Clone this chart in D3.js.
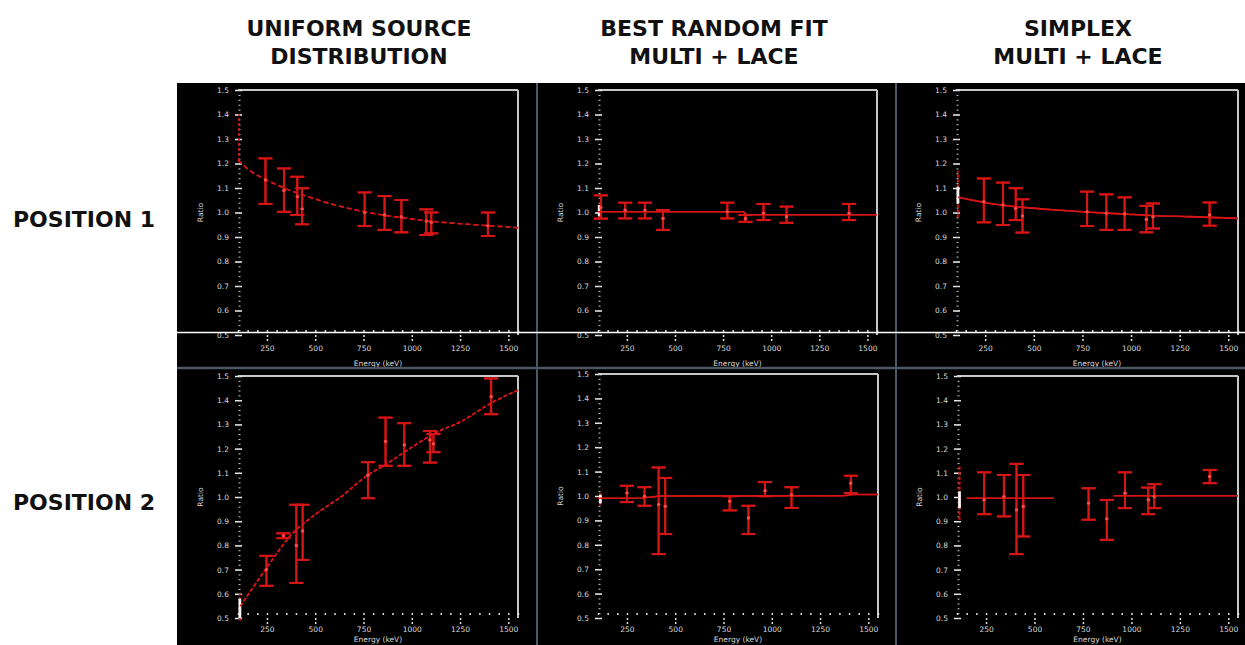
<!DOCTYPE html>
<html><head><meta charset="utf-8">
<script src="https://cdn.jsdelivr.net/npm/d3@7"></script>
<style>html,body{margin:0;padding:0;background:#fff;overflow:hidden}</style>
</head><body>
<svg id="c" width="1245" height="645"></svg>
<script>
// ---------- labels ----------
const colTitles = [["UNIFORM SOURCE","DISTRIBUTION"],["BEST RANDOM FIT","MULTI + LACE"],["SIMPLEX","MULTI + LACE"]];
const rowTitles = ["POSITION 1","POSITION 2"];
const yTicks = [0.5,0.6,0.7,0.8,0.9,1.0,1.1,1.2,1.3,1.4,1.5];
const xTicks = [250,500,750,1000,1250,1500];
const xTitle = "Energy (keV)";
const yTitle = "Ratio";

// ---------- Panel A: uniform source, position 1 ----------
const aX  = [242, 338, 407, 432, 756, 859, 946, 1075, 1101, 1394];
const aY  = [1.133, 1.09, 1.065, 1.015, 1.0, 0.99, 0.982, 0.965, 0.96, 0.946];
const aLo = [1.035, 1.003, 0.99, 0.952, 0.945, 0.929, 0.919, 0.908, 0.915, 0.904];
const aHi = [1.221, 1.18, 1.146, 1.099, 1.082, 1.067, 1.051, 1.013, 1.0, 1.0];
const aFitX = [100, 169, 247, 342, 462, 600, 756, 946, 1118, 1291, 1533, 1552];
const aFitY = [1.214, 1.167, 1.133, 1.099, 1.065, 1.031, 1.003, 0.979, 0.963, 0.952, 0.939, 0.938];
const aEdge = [105, 1.21, 1.40, null, null];

// ---------- Panel B: uniform source, position 2 ----------
const bX  = [247, 335, 402, 435, 773, 864, 961, 1094, 1112, 1411];
const bY  = [0.70, 0.84, 0.80, 0.86, 1.09, 1.23, 1.215, 1.236, 1.22, 1.415];
const bLo = [0.633, 0.83, 0.645, 0.74, 0.995, 1.129, 1.129, 1.142, 1.185, 1.342];
const bHi = [0.757, 0.85, 0.968, 0.968, 1.144, 1.328, 1.305, 1.273, 1.26, 1.49];
const bFitX = [112, 247, 376, 497, 635, 773, 863, 980, 1118, 1256, 1408, 1552];
const bFitY = [0.548, 0.706, 0.844, 0.926, 1.002, 1.091, 1.133, 1.195, 1.263, 1.312, 1.387, 1.442];
const bEdge = [110, 0.49, 0.6, 0.5, 0.58];

// ---------- Panel C: best random fit, position 1 ----------
const cX  = [115, 241, 344, 438, 772, 866, 960, 1080, 1405];
const cY  = [1.02, 1.01, 1.01, 0.976, 1.003, 0.975, 0.997, 0.983, 0.997];
const cLo = [0.975, 0.976, 0.976, 0.929, 0.976, 0.962, 0.969, 0.958, 0.969];
const cHi = [1.07, 1.04, 1.04, 1.01, 1.04, 0.99, 1.035, 1.024, 1.035];
const cFitX = [100, 855, 872, 1550];
const cFitY = [1.003, 1.003, 0.991, 0.991];
const cEdge = [106, 0.975, 1.03, 0.985, 1.03];

// ---------- Panel D: best random fit, position 2 ----------
const dX  = [250, 341, 414, 448, 782, 879, 965, 1102, 1409];
const dY  = [1.012, 0.999, 0.965, 0.958, 0.978, 0.91, 1.022, 1.005, 1.053];
const dLo = [0.975, 0.96, 0.762, 0.844, 0.941, 0.844, 0.999, 0.951, 1.012];
const dHi = [1.042, 1.036, 1.117, 1.074, 0.999, 0.96, 1.057, 1.036, 1.083];
const dFitX = [100, 330, 420, 1370, 1420, 1550];
const dFitY = [0.991, 0.992, 1.0, 1.001, 1.006, 1.006];
const dEdge = [112, 0.964, 1.012, 0.97, 1.005];

// ---------- Panel E: simplex, position 1 ----------
const eX  = [243, 342, 407, 442, 774, 873, 967, 1079, 1113, 1404];
const eY  = [1.044, 1.031, 1.017, 0.986, 1.003, 0.997, 0.994, 0.972, 0.983, 0.99];
const eLo = [0.96, 0.949, 0.969, 0.918, 0.945, 0.929, 0.929, 0.919, 0.935, 0.946];
const eHi = [1.139, 1.122, 1.099, 1.054, 1.085, 1.074, 1.062, 1.027, 1.037, 1.041];
const eFitX = [111, 274, 445, 616, 788, 959, 1130, 1301, 1549];
const eFitY = [1.062, 1.037, 1.021, 1.01, 1.001, 0.994, 0.987, 0.983, 0.976];
const eEdge = [110, 0.98, 1.17, 1.037, 1.105];

// ---------- Panel F: simplex, position 2 ----------
const fX  = [240, 342, 407, 442, 779, 873, 967, 1087, 1118, 1404];
const fY  = [0.988, 1.002, 0.947, 0.961, 0.975, 0.91, 1.016, 0.988, 1.002, 1.085];
const fLo = [0.929, 0.92, 0.764, 0.837, 0.906, 0.823, 0.954, 0.929, 0.954, 1.057];
const fHi = [1.102, 1.091, 1.137, 1.091, 1.036, 0.988, 1.102, 1.039, 1.053, 1.112];
const fFitX = [150, 600, null, 907, 1550];
const fFitY = [0.995, 0.995, null, 1.005, 1.005];
const fEdge = [113, 0.906, 1.133, 0.954, 1.023];

const panels = [
  {x:aX,y:aY,lo:aLo,hi:aHi,fx:aFitX,fy:aFitY,edge:aEdge,dash:"5,3",curve:true},
  {x:bX,y:bY,lo:bLo,hi:bHi,fx:bFitX,fy:bFitY,edge:bEdge,dash:"4,2",curve:true},
  {x:cX,y:cY,lo:cLo,hi:cHi,fx:cFitX,fy:cFitY,edge:cEdge,dash:null,curve:false},
  {x:dX,y:dY,lo:dLo,hi:dHi,fx:dFitX,fy:dFitY,edge:dEdge,dash:null,curve:false},
  {x:eX,y:eY,lo:eLo,hi:eHi,fx:eFitX,fy:eFitY,edge:eEdge,dash:null,curve:true},
  {x:fX,y:fY,lo:fLo,hi:fHi,fx:fFitX,fy:fFitY,edge:fEdge,dash:null,curve:false}
];
// layout (plot areas) for A..F; tk = x tick length, tt = x-title offset
const geom = [
  {l:238,r:518,t:90,b:335,tk:8,tt:31},
  {l:238,r:518,t:376,b:618,tk:6,tt:24},
  {l:598,r:877,t:90,b:335,tk:8,tt:31},
  {l:598,r:878,t:374,b:618,tk:6,tt:24},
  {l:956,r:1238,t:90,b:335,tk:8,tt:31},
  {l:957,r:1238,t:376,b:618,tk:6,tt:24}
];

const svg = d3.select("#c");
const FONT = "'DejaVu Sans', Verdana, sans-serif";
svg.append("rect").attr("width",1245).attr("height",645).attr("fill","#fff");
svg.append("rect").attr("x",177).attr("y",83).attr("width",1068).attr("height",562).attr("fill","#000");

const defs = svg.append("defs");
const flt = defs.append("filter").attr("id","glow").attr("x","-20%").attr("y","-20%").attr("width","140%").attr("height","140%");
flt.append("feGaussianBlur").attr("stdDeviation",0.7).attr("result","b");
const mg = flt.append("feMerge");
mg.append("feMergeNode").attr("in","b");
mg.append("feMergeNode").attr("in","SourceGraphic");

// titles
const colCenters = [359, 714, 1078];
colTitles.forEach((lines, c) => {
  lines.forEach((t, k) => {
    svg.append("text").attr("x", colCenters[c]).attr("y", 36 + k*28)
      .attr("text-anchor","middle").attr("font-family",FONT).attr("font-weight","bold")
      .attr("font-size",22).attr("fill","#111").text(t);
  });
});
const rowBase = [227, 510];
rowTitles.forEach((t, r) => {
  svg.append("text").attr("x", 13).attr("y", rowBase[r])
    .attr("font-family",FONT).attr("font-weight","bold")
    .attr("font-size",22).attr("fill","#111").text(t);
});

const RED = "#d41414";
const minorY = d3.range(0, 51).map(i => +(0.5 + i*0.02).toFixed(2));
const minorX = d3.range(0, 30).map(i => 100 + i*50).filter(v => v <= 1550);

panels.forEach((p, i) => {
  const g = geom[i];
  const x = d3.scaleLinear().domain([100,1550]).range([g.l, g.r]);
  const y = d3.scaleLinear().domain([0.5,1.5]).range([g.b, g.t]);
  const G = svg.append("g");

  // frame top & right
  G.append("line").attr("x1",g.l).attr("x2",g.r).attr("y1",g.t).attr("y2",g.t).attr("stroke","#c8c8c8").attr("stroke-width",2);
  G.append("line").attr("x1",g.r).attr("x2",g.r).attr("y1",g.t).attr("y2",g.b).attr("stroke","#c8c8c8").attr("stroke-width",2);

  // left axis: labels + outer major ticks
  const ya = G.append("g").attr("transform",`translate(${g.l},0)`)
    .call(d3.axisLeft(y).tickValues(yTicks).tickFormat(d3.format(".1f")).tickSizeInner(3).tickSizeOuter(0).tickPadding(6));
  ya.select(".domain").remove();
  ya.selectAll("line").attr("stroke","#eee").attr("stroke-width",1.5);
  ya.selectAll("text").attr("fill","#d8d8d8").attr("font-family",FONT).attr("font-size",7.5);
  // inner major ticks
  const yi = G.append("g").attr("transform",`translate(${g.l},0)`)
    .call(d3.axisLeft(y).tickValues(yTicks).tickFormat("").tickSize(-4).tickSizeOuter(0));
  yi.select(".domain").remove();
  yi.selectAll("line").attr("stroke","#eee").attr("stroke-width",1.5);
  // minor ticks
  const ym = G.append("g").attr("transform",`translate(${g.l+0.5},0)`)
    .call(d3.axisLeft(y).tickValues(minorY).tickFormat("").tickSize(-2).tickSizeOuter(0));
  ym.select(".domain").remove();
  ym.selectAll("line").attr("stroke","#ccc").attr("stroke-width",1);

  // bottom axis
  const xa = G.append("g").attr("transform",`translate(0,${g.b})`)
    .call(d3.axisBottom(x).tickValues(xTicks).tickFormat(d3.format("d")).tickSizeInner(g.tk).tickSizeOuter(0).tickPadding(3));
  xa.select(".domain").remove();
  xa.selectAll("line").attr("stroke","#ddd").attr("stroke-width",1.5).attr("stroke-dasharray","2,2");
  xa.selectAll("text").attr("fill","#d8d8d8").attr("font-family",FONT).attr("font-size",7.5);
  const xm = G.append("g").attr("transform",`translate(0,${g.b-3})`)
    .call(d3.axisBottom(x).tickValues(minorX).tickFormat("").tickSize(-2).tickSizeOuter(0));
  xm.select(".domain").remove();
  xm.selectAll("line").attr("stroke","#ddd").attr("stroke-width",1.5);

  // axis titles
  G.append("text").attr("transform",`translate(${g.l-35},${(g.t+g.b)/2}) rotate(-90)`)
    .attr("text-anchor","middle").attr("font-family",FONT).attr("font-size",7.5).attr("fill","#d8d8d8").text(yTitle);
  G.append("text").attr("x",(g.l+g.r)/2).attr("y",g.b+g.tt)
    .attr("text-anchor","middle").attr("font-family",FONT).attr("font-size",7.5).attr("fill","#d8d8d8").text(xTitle);

  const M = G.append("g").attr("filter","url(#glow)");
  // edge point at the low-energy end
  const ed = p.edge;
  M.append("line").attr("x1",x(ed[0])).attr("x2",x(ed[0])).attr("y1",y(ed[1])).attr("y2",y(ed[2]))
    .attr("stroke",RED).attr("stroke-width",2).attr("stroke-opacity",0.7).attr("stroke-dasharray", "3,2");
  if (ed[3] !== null) {
    M.append("line").attr("x1",x(ed[0])).attr("x2",x(ed[0])).attr("y1",y(ed[3])).attr("y2",y(ed[4]))
      .attr("stroke","#f4f4f4").attr("stroke-width",2.5);
  }

  // fit line
  const line = d3.line().defined((d) => d[0] !== null)
    .x(d => x(d[0])).y(d => y(d[1]))
    .curve(p.curve ? d3.curveMonotoneX : d3.curveLinear);
  const pts = p.fx.map((v, k) => [v, p.fy[k]]);
  const fl = M.append("path").attr("d", line(pts)).attr("fill","none")
    .attr("stroke",RED).attr("stroke-width",1.6);
  if (p.dash) fl.attr("stroke-dasharray", p.dash);

  // error bars
  const cap = 7;
  p.x.forEach((xv, k) => {
    const px = x(xv);
    M.append("line").attr("x1",px).attr("x2",px).attr("y1",y(p.lo[k])).attr("y2",y(p.hi[k]))
      .attr("stroke",RED).attr("stroke-width",2);
    [p.lo[k], p.hi[k]].forEach(v => {
      M.append("line").attr("x1",px-cap).attr("x2",px+cap).attr("y1",y(v)).attr("y2",y(v))
        .attr("stroke",RED).attr("stroke-width",2);
    });
    M.append("circle").attr("cx",px).attr("cy",y(p.y[k])).attr("r",1.6).attr("fill","#ff4a4a");
  });
});

// panel separators
const sep = "#4d5664";
svg.append("line").attr("x1",537).attr("x2",537).attr("y1",83).attr("y2",645).attr("stroke",sep).attr("stroke-width",2);
svg.append("line").attr("x1",896).attr("x2",896).attr("y1",83).attr("y2",645).attr("stroke",sep).attr("stroke-width",2);
svg.append("line").attr("x1",177).attr("x2",1245).attr("y1",368).attr("y2",368).attr("stroke",sep).attr("stroke-width",2.5);
// thin white scan line crossing the top row
svg.append("line").attr("x1",177).attr("x2",1245).attr("y1",332.5).attr("y2",332.5).attr("stroke","#fff").attr("stroke-width",1.5);
</script>
</body></html>
